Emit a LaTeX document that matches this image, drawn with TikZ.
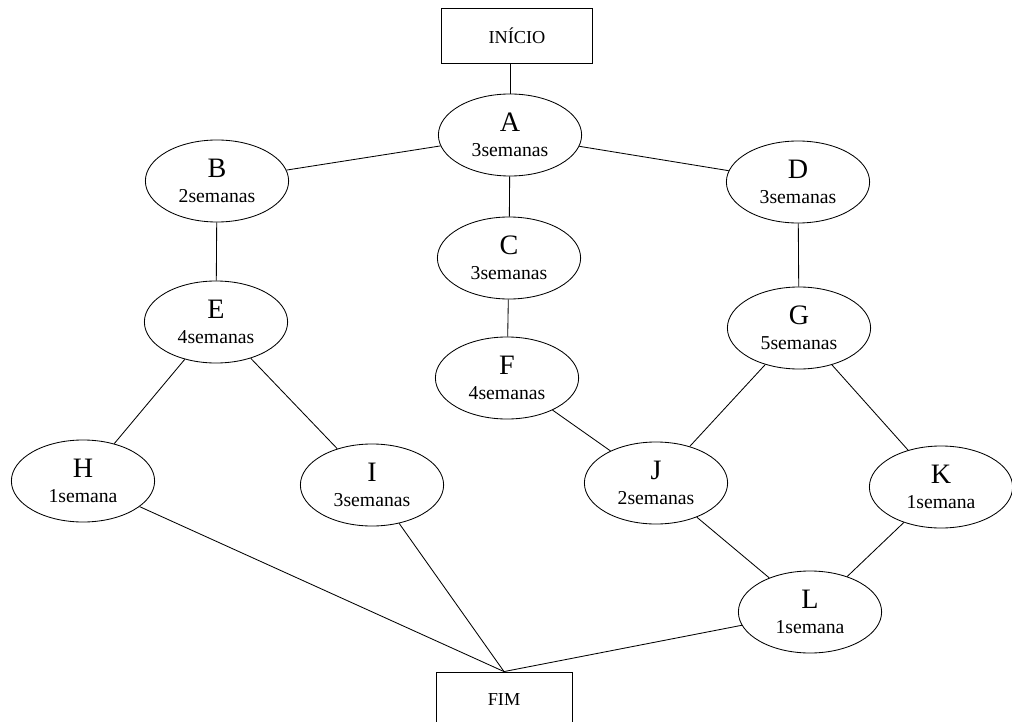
\documentclass[tikz,border=0pt]{standalone}
\usepackage{fontspec}
\setmainfont{Liberation Serif}
\usepackage{tikz}
\usetikzlibrary{shapes.geometric}

\newcommand{\etapa}[2]{{\fontsize{20}{18}\selectfont #1}\\#2}

\begin{document}
\begin{tikzpicture}[x=0.025cm,y=-0.025cm,line width=0.6pt,
		tarefa/.style={ellipse,draw=black,minimum width=3.58cm,minimum height=2.05cm,inner sep=0pt,align=center,font=\fontsize{14}{18}\selectfont},
		marco/.style={rectangle,draw=black,minimum width=#1,minimum height=1.375cm,font=\fontsize{13}{15}\selectfont}]
		\useasboundingbox (0,0) rectangle (1012,722);

		% start and end
		\node[marco=3.78cm] (inicio) at (517,35.5) {INÍCIO};
		\node[marco=3.4cm] (fim) at (504,699.5) {FIM};

		% tasks
		\node[tarefa] (A) at (510,135) {\etapa{A}{3semanas}};
		\node[tarefa] (B) at (217,181) {\etapa{B}{2semanas}};
		\node[tarefa] (C) at (509,258) {\etapa{C}{3semanas}};
		\node[tarefa] (D) at (798,182) {\etapa{D}{3semanas}};
		\node[tarefa] (E) at (216,322) {\etapa{E}{4semanas}};
		\node[tarefa] (F) at (507,378) {\etapa{F}{4semanas}};
		\node[tarefa] (G) at (799,328) {\etapa{G}{5semanas}};
		\node[tarefa] (H) at (83,481) {\etapa{H}{1semana}};
		\node[tarefa] (I) at (372,485) {\etapa{I}{3semanas}};
		\node[tarefa] (J) at (656,483) {\etapa{J}{2semanas}};
		\node[tarefa] (K) at (941,487) {\etapa{K}{1semana}};
		\node[tarefa] (L) at (810,612) {\etapa{L}{1semana}};

		% dependencies
		\draw (A.north) -- (A.north |- inicio.south);
		\draw (A) -- (B);
		\draw (A) -- (C);
		\draw (A) -- (D);
		\draw (B) -- (E);
		\draw (C) -- (F);
		\draw (D) -- (G);
		\draw (E) -- (H);
		\draw (E) -- (I);
		\draw (F) -- (J);
		\draw (G) -- (J);
		\draw (G) -- (K);
		\draw (J) -- (L);
		\draw (K) -- (L);

		% into the end
		\draw (H) -- (fim.north);
		\draw (I) -- (fim.north);
		\draw (L) -- (fim.north);
	\end{tikzpicture}
\end{document}
